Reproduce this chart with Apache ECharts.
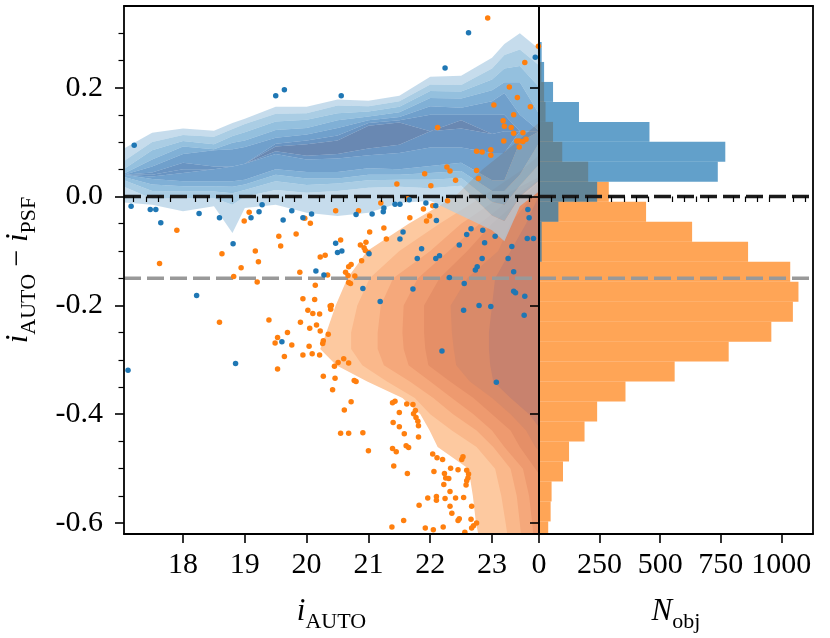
<!DOCTYPE html>
<html><head><meta charset="utf-8">
<script src="https://cdn.jsdelivr.net/npm/echarts@6/dist/echarts.min.js"></script>
<style>html,body{margin:0;padding:0;background:#fff}#c{width:830px;height:638px}</style>
</head><body><div id="c"></div>
<script>
// ---------------- DATA ----------------
const xTicks = [18, 19, 20, 21, 22, 23];
const yTicks = [-0.6, -0.4, -0.2, 0.0, 0.2];
const nTicks = [0, 250, 500, 750, 1000];
const yMinorTicks = [-0.55, -0.5, -0.45, -0.35, -0.3, -0.25, -0.15, -0.1, -0.05, 0.05, 0.1, 0.15, 0.25, 0.3];

// histogram bins (top edges, bin width) and counts
const histTop = [0.2839, 0.2472, 0.2105, 0.1738, 0.1371, 0.1004, 0.0637, 0.0270, -0.0097, -0.0464, -0.0831, -0.1198, -0.1565,
  -0.1932, -0.2299, -0.2666, -0.3033, -0.3400, -0.3767, -0.4134, -0.4501, -0.4868, -0.5235, -0.5602, -0.5969];
const histWidth = 0.0367;
const histOrange = [4, 10, 21, 27, 58, 96, 203, 288, 442, 632, 863, 1037, 1071, 1048, 959, 783, 560, 357, 240, 188, 124, 99, 52, 48, 38];
const histBlue = [11, 21, 58, 165, 456, 769, 738, 240, 80, 11, 11, 4, 0, 0, 0, 0, 0, 0, 0, 0, 0, 0, 0, 0, 0];

// reference lines
const lineZero = 0.0;
const lineOffset = -0.15;

// blue density contours: x nodes and upper/lower boundary per level
const blueX = [17.04, 17.5, 18.0, 18.5, 18.8, 19.0, 19.5, 20.0, 20.5, 21.0, 21.5, 22.0, 22.5, 23.0, 23.2, 23.45, 23.77];
const blueU0 = [.088, .117, .125, .121, .135, .143, .165, .165, .178, .176, .185, .220, .222, .255, .280, .300, .270];
const blueU1 = [.065, .100, .113, .110, .124, .133, .152, .153, .167, .166, .175, .206, .205, .235, .260, .270, .240];
const blueU2 = [.050, .085, .102, .096, .111, .118, .138, .141, .153, .156, .165, .194, .193, .215, .235, .240, .200];
const blueU3 = [.042, .068, .092, .087, .099, .103, .122, .126, .140, .147, .155, .181, .180, .195, .210, .210, .150];
const blueU4 = [.040, .055, .078, .085, .087, .091, .108, .114, .126, .140, .146, .166, .163, .175, .190, .150, .120];
const blueU5 = [.040, .044, .062, .055, .055, .060, .097, .103, .112, .135, .140, .150, .150, .150, .150, .120, .120];
const blueU6 = [.040, .040, .050, .050, .055, .060, .092, .096, .103, .130, .136, .120, .140, .115, .120, .120, .120];
const blueL6 = [.040, .040, .050, .050, .055, .060, .083, .075, .078, .088, .095, .120, .125, .115, .120, .120, .120];
const blueL5 = [.040, .037, .043, .050, .055, .060, .078, .068, .070, .076, .080, .090, .090, .080, .080, .120, .120];
const blueL4 = [.040, .032, .028, .028, .028, .031, .050, .045, .045, .052, .050, .056, .062, .030, .030, .100, .120];
const blueL3 = [.036, .022, .019, .019, .018, .022, .040, .033, .033, .040, .040, .043, .047, .010, .010, .040, .100];
const blueL2 = [.030, .010, .009, .009, .006, .012, .028, .021, .024, .030, .031, .031, .034, -.010, -.015, .020, .060];
const blueL1 = [.018, -.004, -.003, -.003, -.015, .000, .012, .007, .010, .016, .018, .015, .020, -.035, -.045, .000, .030];
const blueL0 = [-.011, -.015, -.027, -.018, -.067, -.021, -.015, -.030, -.036, -.030, -.012, -.008, -.035, -.062, -.082, -.018, .010];

// orange density contours: y nodes and left boundary per level (right side closes at the panel edge)
const orangeY = [0.16, 0.10, 0.05, 0.0, -0.05, -0.10, -0.15, -0.20, -0.25, -0.28, -0.31, -0.34, -0.37, -0.40, -0.43, -0.46, -0.50, -0.55, -0.60, -0.66];
const orangeL0 = [24.0, 23.40, 22.85, 22.40, 21.65, 20.98, 20.66, 20.47, 20.32, 20.22, 20.48, 20.98, 21.55, 21.84, 21.99, 22.12, 22.62, 22.69, 22.74, 22.85];
const orangeL1 = [24.0, 24.0, 23.50, 22.85, 22.15, 21.50, 21.02, 20.82, 20.72, 20.72, 20.90, 21.30, 21.75, 22.00, 22.35, 22.75, 23.05, 23.15, 23.22, 23.30];
const orangeL2 = [24.0, 24.0, 24.0, 23.15, 22.50, 22.00, 21.40, 21.20, 21.15, 21.15, 21.25, 21.67, 22.05, 22.37, 22.75, 23.02, 23.30, 23.40, 23.45, 23.50];
const orangeL3 = [24.0, 24.0, 24.0, 23.35, 22.80, 22.30, 21.80, 21.57, 21.55, 21.57, 21.65, 22.00, 22.35, 22.70, 23.00, 23.20, 23.50, 23.60, 23.65, 23.70];
const orangeL4 = [24.0, 24.0, 24.0, 23.50, 23.00, 22.60, 22.15, 21.90, 21.90, 21.92, 21.97, 22.32, 22.70, 23.00, 23.30, 23.45, 23.70, 24.0, 24.0, 24.0];
const orangeL5 = [24.0, 24.0, 24.0, 23.65, 23.30, 23.10, 22.60, 22.33, 22.35, 22.38, 22.42, 22.64, 23.00, 23.30, 23.55, 23.70, 24.0, 24.0, 24.0, 24.0];
const orangeL6 = [24.0, 24.0, 24.0, 23.75, 23.55, 23.30, 23.05, 23.00, 22.95, 22.95, 22.97, 23.02, 23.30, 23.60, 23.80, 24.0, 24.0, 24.0, 24.0, 24.0];

// outlier points [i_AUTO, i_AUTO - i_PSF]
const bluePoints = [
  [17.21,0.094],[19.50,0.185],[19.64,0.196],[20.56,0.185],[22.24,0.236],[22.62,0.301],[23.70,0.256],
  [17.16,-0.018],[17.47,-0.024],[17.56,-0.024],[17.64,-0.048],[18.26,-0.031],[18.59,-0.039],[18.81,-0.087],
  [19.10,-0.039],[19.23,-0.028],[19.28,-0.015],[19.62,-0.043],[19.76,-0.026],[19.94,-0.039],[20.08,-0.032],
  [20.47,-0.086],[20.50,-0.103],[20.57,-0.100],[20.80,-0.033],[21.06,-0.032],[21.24,-0.028],[21.25,-0.021],
  [21.43,-0.014],[21.51,-0.014],[21.56,-0.065],[21.51,-0.078],[21.66,-0.006],[21.86,-0.096],[21.93,-0.012],
  [22.09,-0.017],[22.10,-0.044],[22.47,-0.089],[22.59,-0.070],[22.66,-0.059],[22.85,-0.062],[22.88,-0.085],
  [23.05,-0.073],[23.32,-0.092],[23.58,-0.024],[23.60,-0.039],[23.57,-0.077],[23.67,-0.077],
  [18.22,-0.182],[18.85,-0.307],[17.11,-0.319],[19.60,-0.267],[20.15,-0.137],[20.28,-0.144],
  [21.01,-0.105],[21.79,-0.114],[22.09,-0.114],[22.15,-0.109],[22.84,-0.114],[22.76,-0.129],[22.73,-0.135],
  [23.26,-0.114],[23.35,-0.138],[22.31,-0.149],[22.55,-0.160],[21.72,-0.170],[20.91,-0.169],[21.19,-0.193],
  [22.79,-0.200],[22.98,-0.202],[22.54,-0.209],[23.35,-0.174],[23.38,-0.177],[23.53,-0.183],[23.52,-0.218],
  [22.19,-0.284],[23.07,-0.341]
];
const orangePoints = [
  [22.93,0.328],[23.75,0.276],[23.53,0.246],[23.28,0.201],[23.41,0.182],[23.03,0.168],[23.62,0.165],[23.35,0.150],
  [23.18,0.139],[23.20,0.129],[23.31,0.127],[23.35,0.116],[22.12,0.127],[23.50,0.117],[23.55,0.105],[23.40,0.102],
  [23.44,0.102],[23.50,0.101],[23.44,0.091],[23.19,0.102],[22.75,0.083],[22.84,0.082],[22.98,0.086],[22.98,0.076],
  [22.27,0.054],[22.32,0.047],[22.41,0.030],[22.75,0.048],[22.78,0.033],[21.91,0.042],[22.01,0.020],[21.46,0.023],
  [22.28,-0.008],[21.63,-0.004],[21.20,-0.012],[21.89,-0.023],[22.04,-0.017],[21.99,-0.036],[21.94,-0.045],
  [21.67,-0.039],[21.25,-0.058],[21.02,-0.065],[21.29,-0.078],[20.47,-0.026],[20.84,-0.026],[19.07,-0.029],
  [18.99,-0.045],[19.97,-0.040],[20.06,-0.049],[19.55,-0.073],[19.58,-0.091],[19.83,-0.069],[20.55,-0.080],
  [20.87,-0.089],[20.96,-0.084],[20.93,-0.094],[20.95,-0.099],[17.90,-0.062],[18.63,-0.105],[19.17,-0.100],
  [20.22,-0.111],[20.30,-0.108],[21.00,-0.103],
  [17.62,-0.123],[19.22,-0.120],[18.94,-0.131],[18.82,-0.147],[19.20,-0.157],[19.89,-0.139],[20.34,-0.144],
  [20.14,-0.163],[19.94,-0.188],[20.13,-0.189],[20.02,-0.209],[20.10,-0.215],[20.21,-0.216],[20.38,-0.201],
  [20.39,-0.207],[19.39,-0.227],[19.90,-0.231],[20.16,-0.236],[20.05,-0.242],[20.22,-0.247],[20.35,-0.253],
  [19.69,-0.250],[19.53,-0.259],[19.49,-0.269],[19.76,-0.273],[20.04,-0.275],[20.27,-0.265],[20.26,-0.270],
  [19.94,-0.291],[20.09,-0.289],[20.21,-0.291],[19.64,-0.294],[18.59,-0.231],[19.53,-0.317],[20.45,-0.312],
  [20.51,-0.305],[20.27,-0.330],[20.46,-0.334],[20.42,-0.355],
  [20.72,-0.125],[20.68,-0.129],[20.89,-0.118],[20.63,-0.139],[20.67,-0.145],[20.78,-0.146],[20.68,-0.158],
  [20.71,-0.160],[20.40,-0.200],[20.60,-0.298],[20.68,-0.306],[20.77,-0.338],[20.80,-0.340],
  [20.72,-0.377],[20.61,-0.392],[20.55,-0.435],[20.68,-0.435],[20.91,-0.434],[21.00,-0.467],[21.39,-0.379],
  [21.43,-0.376],[21.62,-0.381],[21.72,-0.382],[21.76,-0.393],[21.73,-0.399],[21.77,-0.406],[21.80,-0.413],
  [21.81,-0.421],[21.50,-0.397],[21.40,-0.415],[21.50,-0.423],[21.58,-0.436],[21.81,-0.442],[21.61,-0.458],
  [21.65,-0.461],[21.39,-0.463],[21.45,-0.469],[21.41,-0.495],[21.63,-0.509],[22.04,-0.473],[22.11,-0.480],
  [22.20,-0.483],[22.06,-0.505],[22.33,-0.499],[22.45,-0.502],[22.51,-0.483],[22.53,-0.478],[22.23,-0.509],
  [22.25,-0.517],[22.30,-0.518],[22.22,-0.529],[22.32,-0.542],[22.59,-0.503],[22.62,-0.510],[22.61,-0.517],
  [22.59,-0.522],[22.58,-0.530],[21.96,-0.554],[22.10,-0.551],[22.10,-0.558],[22.24,-0.555],[22.41,-0.554],
  [22.54,-0.553],[21.82,-0.567],[22.32,-0.569],[22.35,-0.582],[22.67,-0.569],[22.47,-0.592],[22.45,-0.595],
  [22.66,-0.593],[21.57,-0.595],[21.38,-0.607],[21.92,-0.609],[22.05,-0.612],[22.21,-0.607],[22.70,-0.605],
  [22.75,-0.600],[22.67,-0.609],[22.56,-0.617]
];

// ---------------- STYLE ----------------
const X_MIN = 17.045, X_MAX = 23.76, Y_MIN = -0.62, Y_MAX = 0.35, N_MAX = 1131;
const FONT = '"Liberation Serif", "Times New Roman", serif';
const BLUE = '#1f77b4', ORANGE = '#ff7f0e';
const blueShades = ['#c6dcec', '#aacde4', '#94c0de', '#80b0d6', '#70a0cc', '#6a94c2', '#6a88b2'];
const orangeShades = ['#fdc9a0', '#fab88b', '#f5a87b', '#ee9a6f', '#e58f67', '#d98a69', '#c8826e'];
const BLUE_ALPHA = 0.7;
function translucent(hex, a) {
  const v = [1, 3, 5].map(i => parseInt(hex.substr(i, 2), 16));
  const c = v.map(t => Math.max(0, Math.min(255, Math.round((t - (1 - a) * 255) / a))));
  return `rgba(${c[0]},${c[1]},${c[2]},${a})`;
}
const blueFills = blueShades.map(h => translucent(h, BLUE_ALPHA));

const blueUpper = [blueU0, blueU1, blueU2, blueU3, blueU4, blueU5, blueU6];
const blueLower = [blueL0, blueL1, blueL2, blueL3, blueL4, blueL5, blueL6];
const orangeLeft = [orangeL0, orangeL1, orangeL2, orangeL3, orangeL4, orangeL5, orangeL6];

const xMinorTicks = [];
for (let k = 86; k <= 118; k++) { if (k % 5 !== 0) xMinorTicks.push(k / 5); }
const nMinorTicks = [];
for (let v = 50; v <= 1100; v += 50) { if (v % 250 !== 0) nMinorTicks.push(v); }

const rich = {
  i: { fontFamily: FONT, fontStyle: 'italic', fontSize: 31, color: '#000', verticalAlign: 'top' },
  s: { fontFamily: FONT, fontSize: 22, color: '#000', verticalAlign: 'top', padding: [15, 0, 0, 0] },
  m: { fontFamily: FONT, fontSize: 30, color: '#000', verticalAlign: 'top' }
};
const lineSty = { color: '#000', width: 1.8 };
const labelSty = { fontFamily: FONT, fontSize: 30, color: '#000' };

function frameAxis(extra) {
  return Object.assign({ type: 'value', z: 10, splitLine: { show: false }, axisLine: { show: true, onZero: false, lineStyle: lineSty },
    axisTick: { show: false }, axisLabel: { show: false } }, extra);
}

const xAxis = [
  frameAxis({ gridIndex: 0, position: 'bottom', min: X_MIN, max: X_MAX,
    axisTick: { show: true, customValues: xTicks, length: 9, lineStyle: { color: '#000', width: 1.6 } },
    axisLabel: Object.assign({ show: true, customValues: xTicks, margin: 16, formatter: v => String(v) }, labelSty),
    name: '{i|i}{s|AUTO}', nameLocation: 'middle', nameGap: 62, nameTextStyle: { rich } }),
  frameAxis({ gridIndex: 0, position: 'bottom', min: X_MIN, max: X_MAX, axisLine: { show: false },
    axisTick: { show: true, customValues: xMinorTicks, length: 5.5, lineStyle: { color: '#000', width: 1.2 } } }),
  frameAxis({ gridIndex: 0, position: 'top', min: X_MIN, max: X_MAX }),
  frameAxis({ gridIndex: 1, position: 'bottom', min: 0, max: N_MAX,
    axisTick: { show: true, customValues: nTicks, length: 9, lineStyle: { color: '#000', width: 1.6 } },
    axisLabel: Object.assign({ show: true, customValues: nTicks, margin: 16, formatter: v => String(v) }, labelSty),
    name: '{i|N}{s|obj}', nameLocation: 'middle', nameGap: 62, nameTextStyle: { rich } }),
  frameAxis({ gridIndex: 1, position: 'bottom', min: 0, max: N_MAX, axisLine: { show: false },
    axisTick: { show: true, customValues: nMinorTicks, length: 5.5, lineStyle: { color: '#000', width: 1.2 } } }),
  frameAxis({ gridIndex: 1, position: 'top', min: 0, max: N_MAX })
];
const yAxis = [
  frameAxis({ gridIndex: 0, position: 'left', min: Y_MIN, max: Y_MAX,
    axisTick: { show: true, customValues: yTicks, length: 9, lineStyle: { color: '#000', width: 1.6 } },
    axisLabel: Object.assign({ show: true, customValues: yTicks, margin: 21, formatter: v => v.toFixed(1) }, labelSty),
    name: '{i|i}{s|AUTO}{m| − }{i|i}{s|PSF}', nameLocation: 'middle', nameRotate: 90, nameGap: 84, nameTextStyle: { rich } }),
  frameAxis({ gridIndex: 0, position: 'left', min: Y_MIN, max: Y_MAX, axisLine: { show: false },
    axisTick: { show: true, customValues: yMinorTicks, length: 5.5, lineStyle: { color: '#000', width: 1.2 } } }),
  frameAxis({ gridIndex: 0, position: 'right', min: Y_MIN, max: Y_MAX }),
  frameAxis({ gridIndex: 1, position: 'left', min: Y_MIN, max: Y_MAX,
    axisTick: { show: true, customValues: yTicks, length: 9, lineStyle: { color: '#000', width: 1.6 } } }),
  frameAxis({ gridIndex: 1, position: 'right', min: Y_MIN, max: Y_MAX })
];

function poly(pts, api, fill) {
  return { type: 'polygon', shape: { points: pts.map(p => api.coord(p)) }, style: { fill: fill, stroke: null } };
}

const series = [];
// orange contours (opaque, nested)
series.push({
  type: 'custom', xAxisIndex: 0, yAxisIndex: 0, clip: true, z: 1, silent: true,
  data: orangeLeft.map((_, i) => [i, 0]),
  renderItem: (params, api) => {
    const i = api.value(0);
    const left = orangeLeft[i];
    const pts = [[24.5, orangeY[0]]].concat(orangeY.map((y, k) => [left[k], y])).concat([[24.5, orangeY[orangeY.length - 1]]]);
    return poly(pts, api, orangeShades[i]);
  }
});
// blue contours (translucent bands)
series.push({
  type: 'custom', xAxisIndex: 0, yAxisIndex: 0, clip: true, z: 2, silent: true,
  data: blueUpper.map((_, i) => [i, 0]),
  renderItem: (params, api) => {
    const i = api.value(0);
    const U = blueUpper[i], L = blueLower[i];
    const fwd = (arr) => blueX.map((x, k) => [x, arr[k]]);
    const bwd = (arr) => fwd(arr).reverse();
    if (i === blueUpper.length - 1) {
      return poly(fwd(U).concat(bwd(L)), api, blueFills[i]);
    }
    const U2 = blueUpper[i + 1], L2 = blueLower[i + 1];
    return { type: 'group', children: [
      poly(fwd(U).concat(bwd(U2)), api, blueFills[i]),
      poly(fwd(L2).concat(bwd(L)), api, blueFills[i])
    ] };
  }
});
// reference lines
function refLine(xi, yi, x0, x1, y, color, z) {
  return { type: 'line', xAxisIndex: xi, yAxisIndex: yi, data: [[x0, y], [x1, y]], symbol: 'none', silent: true, z: z,
    lineStyle: { color: color, width: 3.5, type: [17, 6] } };
}
series.push(refLine(0, 0, X_MIN, X_MAX, lineZero, '#1a1a1a', 3));
series.push(refLine(0, 0, X_MIN, X_MAX, lineOffset, '#999999', 3));
// scatter
series.push({ type: 'scatter', xAxisIndex: 0, yAxisIndex: 0, data: orangePoints, symbolSize: 5.5, z: 4, silent: true,
  itemStyle: { color: ORANGE, opacity: 1 } });
series.push({ type: 'scatter', xAxisIndex: 0, yAxisIndex: 0, data: bluePoints, symbolSize: 5.5, z: 5, silent: true,
  itemStyle: { color: BLUE, opacity: 1 } });
// histograms
function histSeries(counts, color, z) {
  return {
    type: 'custom', xAxisIndex: 3, yAxisIndex: 3, clip: true, z: z, silent: true,
    data: counts.map((c, k) => [k, c]),
    renderItem: (params, api) => {
      const k = api.value(0), n = api.value(1);
      if (!n) return null;
      const p1 = api.coord([0, histTop[k]]);
      const p2 = api.coord([n, histTop[k] - histWidth]);
      return { type: 'rect', shape: { x: p1[0], y: p1[1], width: p2[0] - p1[0], height: p2[1] - p1[1] },
        style: { fill: color } };
    }
  };
}
series.push(histSeries(histOrange, 'rgba(255,127,14,0.7)', 2));
series.push(histSeries(histBlue, 'rgba(31,119,180,0.7)', 3));
series.push(refLine(3, 3, 0, N_MAX, lineZero, '#1a1a1a', 4));
series.push(refLine(3, 3, 0, N_MAX, lineOffset, '#999999', 4));

const chart = echarts.init(document.getElementById('c'), null, { renderer: 'canvas' });
chart.setOption({
  animation: false,
  backgroundColor: '#ffffff',
  grid: [
    { left: 124, top: 6, width: 415, height: 529, containLabel: false },
    { left: 539, top: 6, width: 274, height: 529, containLabel: false }
  ],
  xAxis, yAxis, series
});
</script></body></html>
